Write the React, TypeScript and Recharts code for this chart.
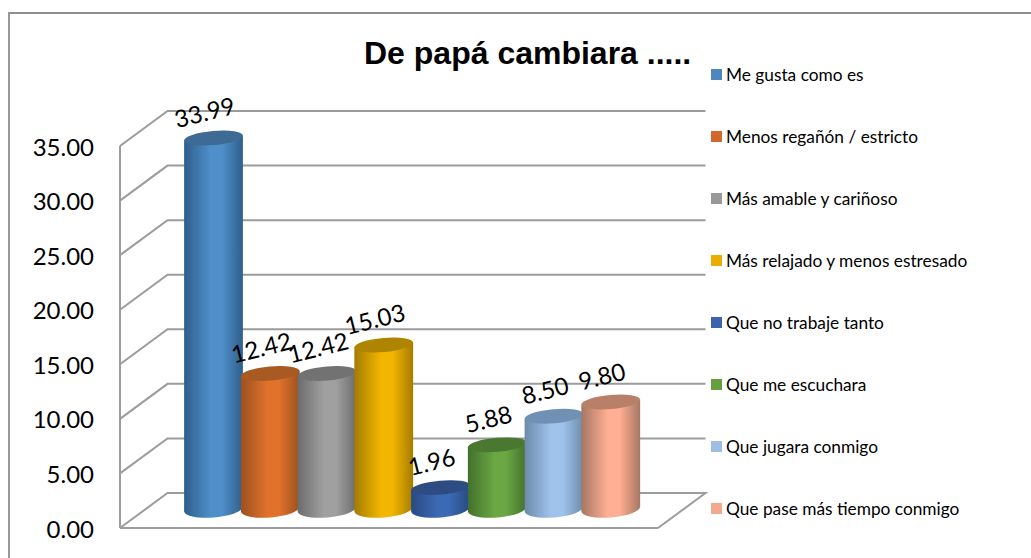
import { BarChart, Bar, XAxis, YAxis, CartesianGrid, LabelList } from 'recharts';

const categories = [
  'Me gusta como es',
  'Menos regañón / estricto',
  'Más amable y cariñoso',
  'Más relajado y menos estresado',
  'Que no trabaje tanto',
  'Que me escuchara',
  'Que jugara conmigo',
  'Que pase más tiempo conmigo',
];
const values = [33.99, 12.42, 12.42, 15.03, 1.96, 5.88, 8.5, 9.8];
const yTicks = [0, 5, 10, 15, 20, 25, 30, 35];

const legendColors = ['#4f86bd', '#d2682b', '#999999', '#ecac00', '#3a64ae', '#659f3f', '#9dbde4', '#f4a98f'];
const midColors = ['#4f8ec9', '#e0722c', '#a0a0a0', '#f2b500', '#3c69b4', '#6ba744', '#a0c3ec', '#ffaf93'];
const edgeColors = ['#2f5f8c', '#9c5020', '#6c6c6c', '#a47c00', '#294a82', '#43702b', '#6c8bab', '#a67764'];
const topColors = ['#3d6b96', '#a85a22', '#727272', '#ae8400', '#2c4c82', '#4a7830', '#7091b4', '#b88069'];

const chartData = categories.map((name, i) => ({ name, value: values[i] }));

const LINE = '#9c9c9c';
const PLOT_BOTTOM = 528;
const DX = 47.5;
const DY = -35;
const FLOOR_LIFT = 19;
const TILT = 5;

// back wall line with its slanted side; the zero line also closes the floor
function WallLine(props: any) {
  const { x1, y1, x2 } = props;
  let d = `M${x1} ${y1} L${x1 + DX} ${y1 + DY} L${x2 + DX} ${y1 + DY}`;
  if (Math.abs(y1 - PLOT_BOTTOM) < 1) d += ` L${x2} ${y1}`;
  return <path key={y1} d={d} fill="none" stroke={LINE} strokeWidth={2} />;
}

function Cylinder(props: any) {
  const { x, y, width, height, index } = props;
  const cx = x + width / 2;
  const rx = 29.5;
  const ry = 7;
  const top = y - FLOOR_LIFT;
  const bottom = y + height - FLOOR_LIFT;
  const s = rx * Math.sin((TILT * Math.PI) / 180);
  const c = rx * Math.cos((TILT * Math.PI) / 180);
  const body =
    `M${cx - c} ${top + s} L${cx - c} ${bottom + s} ` +
    `A${rx} ${ry + 1.5} ${-TILT} 0 0 ${cx + c} ${bottom - s} ` +
    `L${cx + c} ${top - s} Z`;
  return (
    <g>
      <path d={body} fill={`url(#cyl${index})`} />
      <ellipse cx={cx} cy={top} rx={rx} ry={ry} fill={topColors[index]} transform={`rotate(${-TILT} ${cx} ${top})`} />
    </g>
  );
}

function BarLabel(props: any) {
  const { x, y, width, value } = props;
  const cx = x + width / 2 - 9;
  const cy = y - FLOOR_LIFT - 26.5;
  return (
    <text
      x={cx}
      y={cy}
      textAnchor="middle"
      dominantBaseline="central"
      fontFamily="Lato"
      fontSize={24}
      fill="#000"
      transform={`rotate(-14 ${cx} ${cy})`}
    >
      {Number(value).toFixed(2)}
    </text>
  );
}

export default function App() {
  return (
    <div style={{ position: 'absolute', left: 0, top: 0, width: 1031, height: 558, background: '#fff', overflow: 'hidden' }}>
      <div
        style={{
          position: 'absolute',
          left: 8,
          top: 12,
          width: 1040,
          height: 600,
          borderLeft: '2px solid #999',
          borderTop: '2px solid #8f8f8f',
          boxSizing: 'border-box',
        }}
      />
      <BarChart
        width={1031}
        height={558}
        data={chartData}
        margin={{ top: 146, right: 373, bottom: 0, left: 0 }}
        barCategoryGap="0%"
        style={{ position: 'absolute', left: 0, top: 0 }}
      >
        <defs>
          {midColors.map((mid, i) => (
            <linearGradient key={i} id={`cyl${i}`} x1="0" y1="0" x2="1" y2="0">
              <stop offset="0%" stopColor={edgeColors[i]} />
              <stop offset="45%" stopColor={mid} />
              <stop offset="65%" stopColor={mid} />
              <stop offset="100%" stopColor={edgeColors[i]} />
            </linearGradient>
          ))}
        </defs>
        <CartesianGrid vertical={false} horizontal={(p: any) => <WallLine {...p} />} syncWithTicks />
        <XAxis
          dataKey="name"
          padding={{ left: 65, right: 19 }}
          tick={false}
          tickLine={false}
          height={30}
          axisLine={{ stroke: LINE, strokeWidth: 2 }}
        />
        <YAxis
          domain={[0, 35]}
          ticks={yTicks}
          width={120}
          interval={0}
          tickLine={false}
          axisLine={{ stroke: LINE, strokeWidth: 2 }}
          tickMargin={20}
          tickFormatter={(v: number) => v.toFixed(2)}
          tick={{ fontFamily: 'Lato', fontSize: 24, fill: '#000', dy: 1 }}
        />
        <Bar dataKey="value" isAnimationActive={false} shape={<Cylinder />}>
          <LabelList dataKey="value" content={<BarLabel />} />
        </Bar>
      </BarChart>
      <div
        style={{
          position: 'absolute',
          left: 364,
          top: 35,
          fontFamily: 'Liberation Sans',
          fontWeight: 700,
          fontSize: 32,
          lineHeight: '36px',
          whiteSpace: 'nowrap',
          color: '#000',
        }}
      >
        De papá cambiara .....
      </div>
      {categories.map((name, i) => (
        <div
          key={name}
          style={{
            position: 'absolute',
            left: 711,
            top: 64.5 + i * 62,
            height: 20,
            display: 'flex',
            alignItems: 'center',
            fontFamily: 'Lato',
            fontSize: 17.3,
            whiteSpace: 'nowrap',
            color: '#000',
          }}
        >
          <span style={{ width: 11, height: 11, background: legendColors[i], marginRight: 4 }} />
          {name}
        </div>
      ))}
    </div>
  );
}
